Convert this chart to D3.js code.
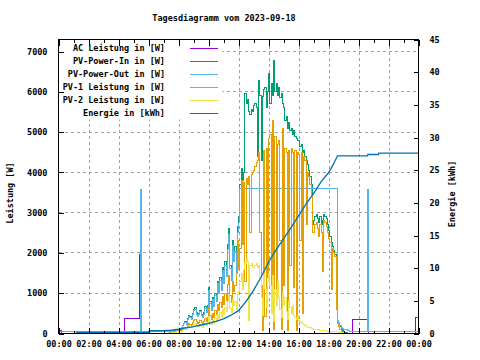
<!DOCTYPE html>
<html><head><meta charset="utf-8">
<script src="https://cdn.jsdelivr.net/npm/d3@7"></script>
<style>
body{margin:0;background:#fff}
svg{display:block}
text{font-family:"DejaVu Sans Mono",monospace;font-size:8.5px;fill:#000;font-weight:bold}
</style>
</head><body>
<svg id="c" width="480" height="360"></svg>
<script>
// ---------- data ----------
const title = "Tagesdiagramm vom 2023-09-18";
const xTickHours = [0,2,4,6,8,10,12,14,16,18,20,22,24];
const xTickLabels = ["00:00","02:00","04:00","06:00","08:00","10:00","12:00","14:00","16:00","18:00","20:00","22:00","00:00"];
const yTicks = [0,1000,2000,3000,4000,5000,6000,7000];
const y2Ticks = [0,5,10,15,20,25,30,35,40,45];
const seriesNames = ["AC Leistung in [W]","PV-Power-In in [W]","PV-Power-Out in [W]","PV-1 Leistung in [W]","PV-2 Leistung in [W]","Energie in [kWh]"];
const seriesColors = ["#9400d3","#009e73","#56b4e9","#e69f00","#f0e442","#0072b2"];

// day grid: 06:00 .. 20:00, one value every 5 minutes
const dayStartHour = 6, dayStepMin = 5;
const pvIn = [
 0,0,0,0,0,0,0,0,0,0,0,0,
 0,0,0,0,0,30,50,60,80,90,100,110,
 100,120,150,200,260,300,250,380,450,420,380,500,
 600,650,520,450,500,580,480,430,520,680,550,700,
 1150,800,620,900,700,1000,850,1300,1050,1400,1150,1650,
 1300,1800,1500,2200,2600,1700,1400,2300,1900,2150,1600,2650,
 2900,3700,4100,3800,4000,5950,5700,5800,5500,5450,5550,5500,
 5650,5700,5600,4400,6290,5900,4300,5875,6050,6120,5600,6000,
 6460,5700,6200,5900,6790,6000,6200,5900,6100,5870,5950,5700,
 5600,5300,5380,5100,5250,5050,5100,4950,5050,4900,4850,4800,
 4800,4650,4700,4500,4550,4400,4300,4200,4050,3900,3700,2700,
 2800,2900,2950,2850,2750,2900,2700,2800,2950,2900,2850,2700,
 2550,2400,2250,2150,2050,1950,1800,300,250,180,120,80,
 50,30,20,0,0,0,0,0,0,0,0,0,
 0];
const pvOut = [
 40,40,40,40,40,40,40,40,40,40,40,40,
 40,40,40,40,40,40,45,55,70,80,90,100,
 90,110,140,190,240,280,230,350,420,390,350,460,
 560,600,480,420,470,540,450,400,480,630,510,650,
 1080,750,580,850,660,940,800,1230,990,1320,1080,1560,
 1230,1700,1420,2080,2460,1610,1320,2180,1800,2030,1510,2500,
 2750,3600,3600,3600,3600,3600,3600,3600,3600,3600,3600,3600,
 3600,3600,3600,3600,3600,3600,3600,3600,3600,3600,3600,3600,
 3600,3600,3600,3600,3600,3600,3600,3600,3600,3600,3600,3600,
 3600,3600,3600,3600,3600,3600,3600,3600,3600,3600,3600,3600,
 3600,3600,3600,3600,3600,3600,3600,3600,3600,3600,3600,3600,
 3600,3600,3600,3600,3600,3600,3600,3600,3600,3600,3600,3600,
 3600,3600,3600,3600,3600,3600,3600,330,280,200,160,130,
 110,100,90,70,65,60,55,50,50,45,45,40,
 40];
const pv1 = [
 0,0,0,0,0,0,0,0,0,0,0,0,
 0,0,0,0,0,20,30,40,50,60,60,70,
 60,70,80,110,140,160,140,200,240,230,210,270,
 330,360,290,250,280,320,270,240,290,380,300,390,
 640,450,340,500,390,560,470,730,580,780,640,920,
 720,1000,830,1220,1450,950,780,1280,1050,1200,1500,2300,
 1600,2100,3800,2200,3750,1300,3850,3700,3900,2500,3950,4000,
 4050,4150,4250,4300,4500,2520,1200,80,4550,410,4600,1400,
 4850,4950,660,5300,100,4900,800,4700,4800,2320,100,5100,
 1200,4600,4500,80,4550,1700,4600,4500,1150,4550,80,4500,
 4450,2320,4500,500,4400,4300,2700,4000,3900,3700,3450,2500,
 2500,2700,2750,2600,2400,2700,2500,1550,2800,2750,2650,2500,
 2350,2250,1100,2100,2000,1900,600,250,180,100,60,30,
 10,0,0,0,0,0,0,0,0,0,0,0,
 0];
const pv2 = [
 0,0,0,0,0,0,0,0,0,0,0,0,
 0,0,0,0,0,10,20,20,30,30,40,40,
 30,40,50,70,90,110,90,140,170,160,140,190,
 220,250,190,170,180,220,170,160,200,260,210,270,
 420,290,230,330,260,380,310,480,380,520,420,600,
 480,650,540,800,950,620,520,840,690,800,590,980,
 1050,1300,1500,1100,1600,1750,1850,1800,330,1700,1750,1650,
 1650,1700,1750,1650,1700,1400,900,450,1500,1100,650,1300,
 1500,1200,500,1450,300,1100,700,1300,900,600,400,1000,
 700,900,550,350,800,650,500,700,450,400,350,450,
 330,300,280,250,220,200,180,160,150,140,130,120,
 110,100,100,90,90,80,80,80,70,70,60,60,
 60,50,50,50,50,40,40,40,30,30,20,20,
 10,0,0,0,0,0,0,0,0,0,0,0,
 0];

// night parts of PV-Power-Out (hours, W)
const pvOutNightHours = [0, 5.44, 5.51];
const pvOutNightValues = [50, 3575, 50];
const pvOutEveHours = [20.62, 20.69, 24];
const pvOutEveValues = [3575, 40, 40];

// AC Leistung (hours, W), step points
const acHours = [0, 0.17, 4.39, 5.40, 5.47, 19.59, 20.58, 20.66, 23.82, 24];
const acValues = [80, 0, 380, 1950, 0, 350, 1950, 0, 400, 400];

// Energie (hours, kWh)
const energyHours = [1.17,6.0,6.05,7.0,7.5,8.0,8.5,9.0,9.5,10.0,10.5,11.0,11.5,12.0,12.5,13.0,13.5,14.0,14.5,15.0,15.5,16.0,16.5,17.0,17.5,18.0,18.3,18.6,20.6,20.62,21.33,21.35,24];
const energyValues = [0.15,0.15,0.42,0.45,0.5,0.65,0.85,1.05,1.3,1.55,1.85,2.25,2.8,3.5,4.9,6.6,8.6,10.9,12.8,14.5,16.2,18.0,19.8,21.4,23.2,24.6,25.8,27.2,27.2,27.4,27.4,27.6,27.6];

// ---------- layout ----------
const L = 58.5, R = 418.5, T = 39.5, B = 333.5;
const svg = d3.select("#c");
const x = d3.scaleLinear().domain([0,24]).range([L,R]);
const y = d3.scaleLinear().domain([0,7300]).range([B,T]);
const y2 = d3.scaleLinear().domain([0,45]).range([B,T]);

const dayHour = i => dayStartHour + i*dayStepMin/60;
const dayPts = arr => arr.map((v,i)=>[dayHour(i), v]);
const zipPts = (h,v) => h.map((t,i)=>[t, v[i]]);

svg.append("clipPath").attr("id","clip").append("rect")
  .attr("x",L).attr("y",T-1).attr("width",R-L).attr("height",B-T+1);

// grid (behind)
const grid = svg.append("g").attr("stroke","#a0a0a0").attr("stroke-dasharray","3,3")
  .attr("shape-rendering","crispEdges");
xTickHours.filter(h=>h>0 && h<24).forEach(h=>{
  grid.append("line").attr("x1",Math.round(x(h))+0.5).attr("x2",Math.round(x(h))+0.5).attr("y1",T).attr("y2",B);
});
yTicks.filter(v=>v>0).forEach(v=>{
  grid.append("line").attr("x1",L).attr("x2",R).attr("y1",Math.round(y(v)-0.5)+0.5).attr("y2",Math.round(y(v)-0.5)+0.5);
});

const plot = svg.append("g").attr("clip-path","url(#clip)");
const stepLine = d3.line().x(d=>x(d[0])).y(d=>y(d[1])).curve(d3.curveStepAfter);
const eLine = d3.line().x(d=>x(d[0])).y(d=>y2(d[1]));

function drawStep(pts, color, w){
  plot.append("path").datum(pts).attr("d",stepLine)
    .attr("fill","none").attr("stroke",color).attr("stroke-width",w||1)
    .attr("shape-rendering","crispEdges");
}
drawStep(zipPts(acHours, acValues), seriesColors[0]);
drawStep(dayPts(pvIn), seriesColors[1]);
drawStep([...zipPts(pvOutNightHours,pvOutNightValues), ...dayPts(pvOut), ...zipPts(pvOutEveHours,pvOutEveValues)], seriesColors[2]);
drawStep(dayPts(pv1), seriesColors[3]);
drawStep(dayPts(pv2), seriesColors[4]);
plot.append("path").datum(zipPts(energyHours, energyValues)).attr("d",eLine)
  .attr("fill","none").attr("stroke",seriesColors[5]).attr("stroke-width",1.3);

// legend with opaque background
const lg = svg.append("g");
lg.append("rect").attr("x",L+0.5).attr("y",T+0.5).attr("width",222-L).attr("height",119-T).attr("fill","#fff");
seriesNames.forEach((name,i)=>{
  const yy = 48 + i*12.9;
  lg.append("text").attr("x",165).attr("y",yy+3).attr("text-anchor","end").text(name);
  lg.append("line").attr("x1",190).attr("x2",218).attr("y1",Math.round(yy)+0.5).attr("y2",Math.round(yy)+0.5)
    .attr("stroke",seriesColors[i]).attr("stroke-width",1).attr("shape-rendering","crispEdges");
});

// axes
const axL = d3.axisLeft(y).tickValues(yTicks).tickSize(-5).tickPadding(11).tickFormat(d3.format("d"));
const axR = d3.axisRight(y2).tickValues(y2Ticks).tickSize(-5).tickPadding(11).tickFormat(d3.format("d"));
const axB = d3.axisBottom(x).tickValues(xTickHours).tickSize(-6).tickPadding(7).tickFormat((d,i)=>xTickLabels[i]);
const minorHours = d3.range(1,24,2);
const axBm = d3.axisBottom(x).tickValues(minorHours).tickSize(-3).tickFormat("");
const axT = d3.axisTop(x).tickValues(xTickHours).tickSize(-6).tickFormat("");
const axTm = d3.axisTop(x).tickValues(minorHours).tickSize(-3).tickFormat("");

function styleAxis(g){
  g.select(".domain").remove();
  g.selectAll("line").attr("stroke","#000").attr("shape-rendering","crispEdges");
  g.selectAll("text").attr("fill","#000");
  g.attr("font-family",null).attr("font-size",null);
}
svg.append("g").attr("transform",`translate(${L},0)`).call(axL).call(styleAxis);
svg.append("g").attr("transform",`translate(${R},0)`).call(axR).call(styleAxis);
svg.append("g").attr("transform",`translate(0,${B})`).call(axB).call(styleAxis);
svg.append("g").attr("transform",`translate(0,${B})`).call(axBm).call(styleAxis);
svg.append("g").attr("transform",`translate(0,${T})`).call(axT).call(styleAxis);
svg.append("g").attr("transform",`translate(0,${T})`).call(axTm).call(styleAxis);

// border
svg.append("rect").attr("x",L).attr("y",T).attr("width",R-L).attr("height",B-T)
  .attr("fill","none").attr("stroke","#000").attr("shape-rendering","crispEdges");

// title and axis labels
svg.append("text").attr("x",224).attr("y",21).attr("text-anchor","middle").text(title);
svg.append("text").attr("transform","translate(12.5,193) rotate(-90)").attr("text-anchor","middle").text("Leistung [W]");
svg.append("text").attr("transform","translate(455,194) rotate(-90)").attr("text-anchor","middle").text("Energie [kWh]");
</script>
</body></html>
